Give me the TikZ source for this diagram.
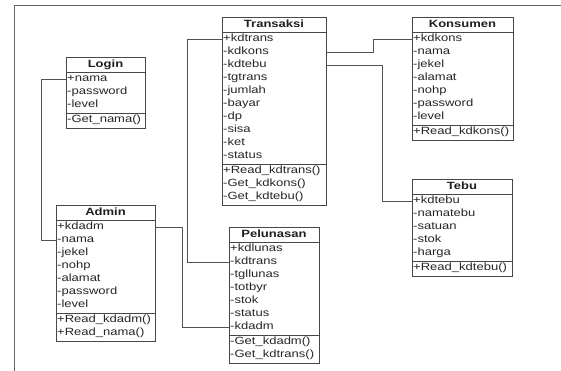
\documentclass[tikz,border=0pt]{standalone}
\usepackage{fontspec}
\setmainfont{Liberation Sans}[FakeStretch=1.24]
\tikzset{
  classframe/.style={draw=black!72, fill=white, line width=0.9pt, inner sep=0pt},
  classline/.style={draw=black!72, line width=0.9pt},
  titletext/.style={font=\fontsize{10.5}{12}\selectfont\bfseries, text=black!88, inner sep=0pt, text height=7.8pt, text depth=2pt},
  rowtext/.style={font=\fontsize{10.5}{12}\selectfont, text=black!85, anchor=west, inner xsep=1pt, inner ysep=0pt, text height=7.8pt, text depth=2pt, align=left},
  conn/.style={draw=black!68, line width=0.9pt},
  frameline/.style={draw=black!60, line width=0.9pt}
}
\newcommand\umlclass[9]{%
  \pgfmathsetmacro\ux{#2}\pgfmathsetmacro\uy{#3}\pgfmathsetmacro\uw{#4}%
  \pgfmathsetmacro\utw{#4-2}%
  \pgfmathsetmacro\uh{15+13*#5+13*#6+4}%
  \pgfmathsetmacro\usep{#3+15+13*#5+2}%
  \node[classframe, minimum width=\uw pt, minimum height=\uh pt, anchor=north west] (#1) at (\ux,\uy) {};
  \node[titletext] (#1-t) at ({\ux+\uw/2},{\uy+7.5}) {#7};
  \draw[classline] (\ux,{\uy+15}) -- ++(\uw,0);
  \draw[classline] (\ux,\usep) -- ++(\uw,0);
  \foreach \t [count=\i] in {#8} {\node[rowtext, text width=\utw pt] (#1-a\i) at (\ux,{\uy+15+13*\i-6}) {\t};}
  \foreach \t [count=\i] in {#9} {\node[rowtext, text width=\utw pt] (#1-m\i) at (\ux,{\usep+13*\i-6}) {\t};}
}
\begin{document}
\begin{tikzpicture}[x=1pt,y=-1pt]
\useasboundingbox (0,0) rectangle (561,371);
% outer frame
\coordinate (fb) at (14,371);
\coordinate (ftl) at (14,5);
\coordinate (ftr) at (561,5);
\draw[frameline] (fb) -- (ftl) -- (ftr);

\umlclass{login}{66}{57}{79}{3}{1}{Login}{+nama,-password,-level}{-Get\_nama()}
\umlclass{admin}{56}{205}{99}{7}{2}{Admin}{+kdadm,-nama,-jekel,-nohp,-alamat,-password,-level}{+Read\_kdadm(),+Read\_nama()}
\umlclass{trans}{222}{17}{104}{10}{3}{Transaksi}{+kdtrans,-kdkons,-kdtebu,-tgtrans,-jumlah,-bayar,-dp,-sisa,-ket,-status}{+Read\_kdtrans(),-Get\_kdkons(),-Get\_kdtebu()}
\umlclass{pel}{229}{227}{90}{7}{2}{Pelunasan}{+kdlunas,-kdtrans,-tgllunas,-totbyr,-stok,-status,-kdadm}{-Get\_kdadm(),-Get\_kdtrans()}
\umlclass{kons}{412}{17}{101}{7}{1}{Konsumen}{+kdkons,-nama,-jekel,-alamat,-nohp,-password,-level}{+Read\_kdkons()}
\umlclass{tebu}{412}{179}{100}{5}{1}{Tebu}{+kdtebu,-namatebu,-satuan,-stok,-harga}{+Read\_kdtebu()}

% junction columns
\coordinate (j1) at (41,0);
\coordinate (j2) at (182,0);
\coordinate (j3) at (187,0);
\coordinate (j4) at (373,0);
\coordinate (j5) at (382,0);

\draw[conn] (login-a1.west) -- (login-a1.west -| j1) -- (admin-a2.west -| j1) -- (admin-a2.west);
\draw[conn] (admin-a1.east) -- (admin-a1.east -| j2) -- (pel-a7.west -| j2) -- (pel-a7.west);
\draw[conn] (trans-a1.west) -- (trans-a1.west -| j3) -- (pel-a2.west -| j3) -- (pel-a2.west);
\draw[conn] (trans-a2.east) -- (trans-a2.east -| j4) -- (kons-a1.west -| j4) -- (kons-a1.west);
\draw[conn] (trans-a3.east) -- (trans-a3.east -| j5) -- (tebu-a1.west -| j5) -- (tebu-a1.west);
\end{tikzpicture}
\end{document}
